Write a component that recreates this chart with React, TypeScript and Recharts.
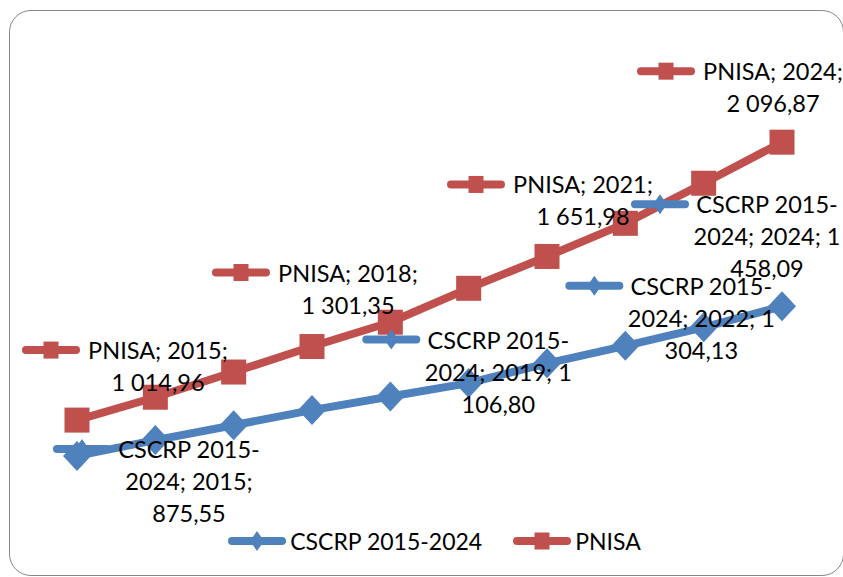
import React from 'react';
import { LineChart, Line, XAxis, YAxis, Legend, LabelList } from 'recharts';

// chart values
const years = ['2015', '2016', '2017', '2018', '2019', '2020', '2021', '2022', '2023', '2024'];
const cscrpValues = [875.55, 937, 995, 1054, 1106.8, 1159, 1236, 1304.13, 1376, 1458.09];
const pnisaValues = [1014.96, 1104, 1202, 1301.35, 1396, 1528, 1651.98, 1781, 1937, 2096.87];
const cscrpName = 'CSCRP 2015-2024';
const pnisaName = 'PNISA';
const cscrpLabelYears = ['2015', '2019', '2022', '2024'];
const pnisaLabelYears = ['2015', '2018', '2021', '2024'];

const BLUE = '#4F81BD';
const RED = '#C0504D';
const FONT = 'Lato, "Open Sans", sans-serif';

// where each data label block sits relative to its point
const LABEL_OFFSETS: Record<string, Record<string, { dx: number; dy: number }>> = {
    cscrp: {
        '2015': { dx: 112, dy: -7 },
        '2019': { dx: 108, dy: -57 },
        '2022': { dx: 76, dy: -60 },
        '2024': { dx: -15, dy: -102 },
    },
    pnisa: {
        '2015': { dx: 81, dy: -70 },
        '2018': { dx: 36, dy: -74 },
        '2021': { dx: 36, dy: -72 },
        '2024': { dx: -9, dy: -71 },
    },
};

const data = years.map((year, i) => ({ year, cscrp: cscrpValues[i], pnisa: pnisaValues[i] }));

function formatValue(v: number) {
    const [int, dec] = v.toFixed(2).split('.');
    return int.replace(/\B(?=(\d{3})+(?!\d))/g, ' ') + ',' + dec;
}

// greedy wrap like Excel does for the labels (breaks on spaces and after a hyphen)
function wrap(text: string, max: number) {
    const words = text.split(' ').flatMap(w => {
        const i = w.indexOf('-');
        return i > 0 && i < w.length - 1 ? [w.slice(0, i + 1), w.slice(i + 1)] : [w];
    });
    const lines: string[] = [];
    let cur = '';
    for (const w of words) {
        const joined = cur === '' ? w : cur.endsWith('-') ? cur + w : cur + ' ' + w;
        if (cur !== '' && joined.length > max) {
            lines.push(cur);
            cur = w;
        } else {
            cur = joined;
        }
    }
    if (cur) lines.push(cur);
    return lines;
}

function KeyIcon({ x, y, kind }: { x: number; y: number; kind: 'cscrp' | 'pnisa' }) {
    const color = kind === 'cscrp' ? BLUE : RED;
    return (
        <g>
            <line x1={x - 25} y1={y} x2={x + 25} y2={y} stroke={color} strokeWidth={8} strokeLinecap="round" />
            {kind === 'pnisa' ? (
                <rect x={x - 7.5} y={y - 8.5} width={15} height={17} fill={color} />
            ) : (
                <path d={`M${x},${y - 10} L${x + 7},${y} L${x},${y + 10} L${x - 7},${y} Z`} fill={color} />
            )}
        </g>
    );
}

function makeLabel(kind: 'cscrp' | 'pnisa') {
    const name = kind === 'cscrp' ? cscrpName : pnisaName;
    const shown = kind === 'cscrp' ? cscrpLabelYears : pnisaLabelYears;
    return (props: any) => {
        const { x, y, index, value } = props;
        const year = years[index];
        if (!shown.includes(year) || x == null || y == null) return null;
        const off = LABEL_OFFSETS[kind][year];
        const cx = Number(x) + off.dx;
        const top = Number(y) + off.dy;
        const lines = wrap(`${name}; ${year}; ${formatValue(Number(value))}`, 13);
        return (
            <g key={`${kind}-lbl-${index}`}>
                <KeyIcon x={cx - 107} y={top} kind={kind} />
                {lines.map((ln, i) => (
                    <text
                        key={i}
                        x={cx}
                        y={top + i * 32}
                        textAnchor="middle"
                        dominantBaseline="central"
                        fontFamily={FONT}
                        fontSize={23.5}
                        fill="#000"
                    >
                        {ln}
                    </text>
                ))}
            </g>
        );
    };
}

const squareDot = (p: any) => (
    <rect key={`sq-${p.index}`} x={p.cx - 12.5} y={p.cy - 12.5} width={25} height={25} fill={RED} />
);

const diamondDot = (p: any) => (
    <path
        key={`dm-${p.index}`}
        d={`M${p.cx},${p.cy - 15} L${p.cx + 14},${p.cy} L${p.cx},${p.cy + 15} L${p.cx - 14},${p.cy} Z`}
        fill={BLUE}
    />
);

function LegendContent() {
    const item = (kind: 'cscrp' | 'pnisa', label: string) => (
        <div style={{ display: 'flex', alignItems: 'center', marginRight: kind === 'cscrp' ? 29 : 0 }}>
            <svg width={62} height={36}>
                <KeyIcon x={31} y={18} kind={kind} />
            </svg>
            <span style={{ fontFamily: FONT, fontSize: 23, color: '#000', marginLeft: 2 }}>{label}</span>
        </div>
    );
    return (
        <div style={{ display: 'flex', justifyContent: 'center', alignItems: 'center', height: 36, paddingLeft: 24 }}>
            {item('cscrp', cscrpName)}
            {item('pnisa', pnisaName)}
        </div>
    );
}

export default function App() {
    return (
        <div style={{ position: 'absolute', left: 0, top: 0, width: 843, height: 577, background: '#fff' }}>
            {/* rounded chart frame */}
            <div
                style={{
                    position: 'absolute',
                    left: 9,
                    top: 10,
                    width: 835,
                    height: 566,
                    border: '1.5px solid #878787',
                    borderRadius: 22,
                    boxSizing: 'border-box',
                }}
            />
            <LineChart width={843} height={577} data={data} margin={{ top: 90, right: 61, bottom: 76, left: 77 }}>
                <XAxis dataKey="year" hide />
                <YAxis hide domain={[700, 2300]} allowDataOverflow />
                <Line
                    dataKey="cscrp"
                    name={cscrpName}
                    stroke={BLUE}
                    strokeWidth={8}
                    strokeLinejoin="round"
                    dot={diamondDot}
                    activeDot={false}
                    isAnimationActive={false}
                />
                <Line
                    dataKey="pnisa"
                    name={pnisaName}
                    stroke={RED}
                    strokeWidth={8}
                    strokeLinejoin="round"
                    dot={squareDot}
                    activeDot={false}
                    isAnimationActive={false}
                />
                {/* label-only series drawn last so the labels sit on top of both lines */}
                <Line dataKey="pnisa" stroke="none" dot={false} activeDot={false} legendType="none" isAnimationActive={false}>
                    <LabelList dataKey="pnisa" content={makeLabel('pnisa')} />
                </Line>
                <Line dataKey="cscrp" stroke="none" dot={false} activeDot={false} legendType="none" isAnimationActive={false}>
                    <LabelList dataKey="cscrp" content={makeLabel('cscrp')} />
                </Line>
                <Legend
                    layout="horizontal"
                    verticalAlign="middle"
                    align="center"
                    wrapperStyle={{ top: 523, left: 0, width: 843, height: 36 }}
                    content={() => <LegendContent />}
                />
            </LineChart>
        </div>
    );
}
